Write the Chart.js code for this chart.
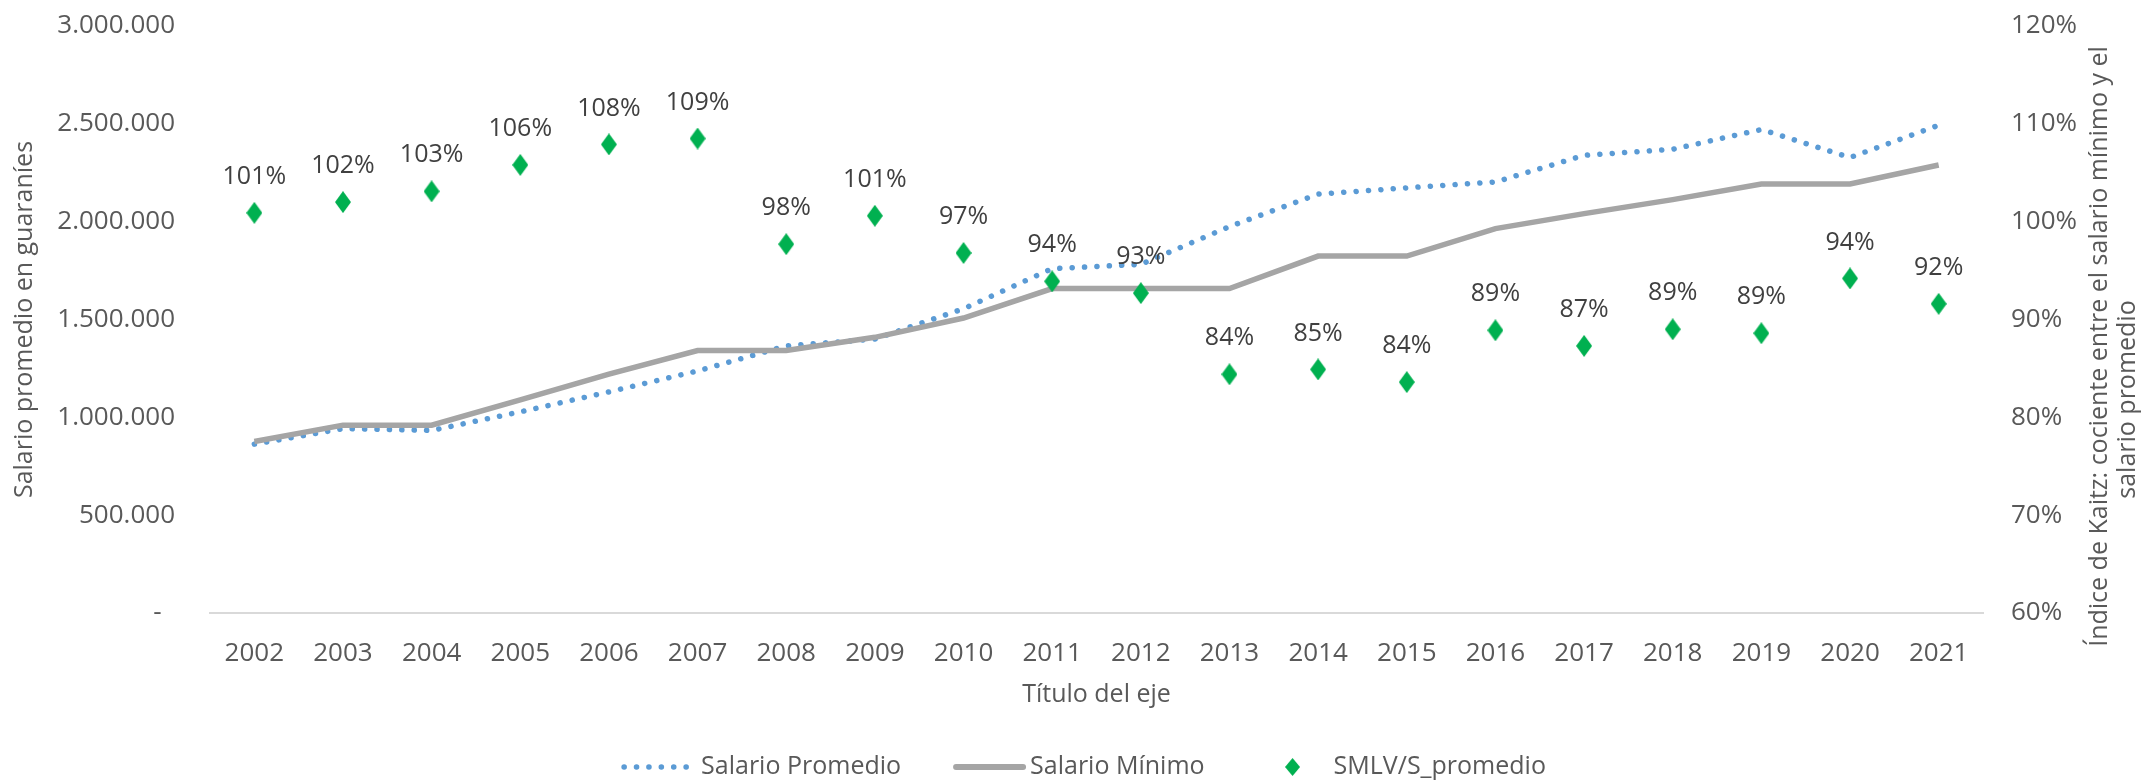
<!DOCTYPE html>
<html lang="es">
<head>
<meta charset="utf-8">
<title>Salario promedio y salario mínimo</title>
<script src="https://cdn.jsdelivr.net/npm/chart.js@4/dist/chart.umd.min.js"></script>
<style>
  html, body { margin: 0; padding: 0; background: #ffffff; }
  #wrap { width: 2154px; height: 780px; }
</style>
</head>
<body>
<div id="wrap"><canvas id="salarioChart" width="2154" height="780"></canvas></div>
<script>
// Data
const anios = ['2002', '2003', '2004', '2005', '2006', '2007', '2008', '2009', '2010', '2011',
               '2012', '2013', '2014', '2015', '2016', '2017', '2018', '2019', '2020', '2021'];

const salarioPromedio = [863000, 942000, 933000, 1028000, 1130000, 1237000, 1365000, 1400000, 1555000, 1760000,
                         1782000, 1975000, 2141000, 2173000, 2203000, 2339000, 2370000, 2471000, 2328000, 2493000];

const salarioMinimo = [876856, 960137, 960137, 1089725, 1220492, 1341320, 1341320, 1408863, 1507484, 1658232,
                       1658232, 1658232, 1824055, 1824055, 1964507, 2041123, 2112562, 2192839, 2192839, 2289324];

// SMLV / S_promedio in percent (Kaitz index)
const indiceKaitz = [100.9, 102.0, 103.1, 105.8, 107.9, 108.5, 97.7, 100.6, 96.8, 93.9,
                     92.7, 84.4, 84.9, 83.6, 88.9, 87.3, 89.0, 88.6, 94.2, 91.6];

const nombresSeries = ['Salario Promedio', 'Salario Mínimo', 'SMLV/S_promedio'];
const tituloIzq = 'Salario promedio en guaraníes';
const tituloDer = ['Índice de Kaitz: cociente entre el salario mínimo y el', 'salario promedio'];
const tituloX = 'Título del eje';

const FONT = "'Open Sans', 'DejaVu Sans', sans-serif";
const gris = '#595959';
const azul = '#5B9BD5';
const grisLinea = '#A5A5A5';
const verde = '#00B050';

// Green diamond marker (taller than wide, like the Excel marker)
function hacerDiamante(w, h) {
    const c = document.createElement('canvas');
    c.width = w;
    c.height = h;
    const g = c.getContext('2d');
    g.fillStyle = verde;
    g.beginPath();
    g.moveTo(w / 2, 0);
    g.lineTo(w, h / 2);
    g.lineTo(w / 2, h);
    g.lineTo(0, h / 2);
    g.closePath();
    g.fill();
    return c;
}
const diamante = hacerDiamante(16, 22);
const diamanteLeyenda = hacerDiamante(15, 18);

// Thousands with dots, zero shown as a dash
function formatoGuaranies(v) {
    if (v === 0) return '-  ';
    return String(v).replace(/\B(?=(\d{3})+(?!\d))/g, '.');
}

// Fixed axis width; drop the label padding so the plot top stays where we put it
function fijarAncho(w) {
    return (s) => {
        s.width = w;
        s.paddingTop = 0;
        s.paddingBottom = 0;
    };
}

// Percent labels above each diamond
const etiquetasKaitz = {
    id: 'etiquetasKaitz',
    afterDatasetsDraw(chart) {
        const meta = chart.getDatasetMeta(2);
        const ctx = chart.ctx;
        ctx.save();
        ctx.font = '25px ' + FONT;
        ctx.fillStyle = '#404040';
        ctx.textAlign = 'center';
        ctx.textBaseline = 'middle';
        meta.data.forEach((pt, i) => {
            ctx.fillText(Math.round(indiceKaitz[i]) + '%', pt.x, pt.y - 36);
        });
        ctx.restore();
    }
};

// Right axis title, reading bottom to top like the left one
const tituloDerecho = {
    id: 'tituloDerecho',
    afterDraw(chart) {
        const s = chart.scales.y1;
        const area = chart.chartArea;
        const ctx = chart.ctx;
        const mid = (area.top + area.bottom) / 2;
        const pos = [{ x: s.right - 54, y: mid + 27 }, { x: s.right - 26, y: mid + 80 }];
        ctx.save();
        ctx.font = '25px ' + FONT;
        ctx.fillStyle = gris;
        ctx.textAlign = 'center';
        ctx.textBaseline = 'middle';
        tituloDer.forEach((linea, i) => {
            ctx.save();
            ctx.translate(pos[i].x, pos[i].y);
            ctx.rotate(-Math.PI / 2);
            ctx.fillText(linea, 0, 0);
            ctx.restore();
        });
        ctx.restore();
    }
};

// Legend drawn by hand so its place does not move the plot area
const leyenda = {
    id: 'leyenda',
    afterDraw(chart) {
        const ctx = chart.ctx;
        const y = chart.height - 13;
        const muestra = 77;   // sample + gap before the text
        const hueco = 52;     // gap between items
        ctx.save();
        ctx.font = '25px ' + FONT;
        const anchos = nombresSeries.map(t => ctx.measureText(t).width);
        const total = anchos.reduce((a, b) => a + b, 0) + 3 * muestra + 2 * hueco;
        let x = 1085 - total / 2;

        nombresSeries.forEach((nombre, i) => {
            if (i === 0) {
                ctx.strokeStyle = azul;
                ctx.lineWidth = 5.5;
                ctx.lineCap = 'round';
                ctx.setLineDash([0.1, 12.3]);
                ctx.beginPath();
                ctx.moveTo(x, y);
                ctx.lineTo(x + 67, y);
                ctx.stroke();
                ctx.setLineDash([]);
            } else if (i === 1) {
                ctx.strokeStyle = grisLinea;
                ctx.lineWidth = 6;
                ctx.lineCap = 'round';
                ctx.beginPath();
                ctx.moveTo(x + 3, y);
                ctx.lineTo(x + 70, y);
                ctx.stroke();
            } else {
                ctx.drawImage(diamanteLeyenda, x + 36 - diamanteLeyenda.width / 2, y - diamanteLeyenda.height / 2);
            }
            ctx.fillStyle = gris;
            ctx.textAlign = 'left';
            ctx.textBaseline = 'middle';
            ctx.fillText(nombre, x + muestra, y);
            x += muestra + anchos[i] + hueco;
        });
        ctx.restore();
    }
};

const salarioChart = new Chart(document.getElementById('salarioChart'), {
    type: 'line',
    data: {
        labels: anios,
        datasets: [
            {
                label: nombresSeries[0],
                data: salarioPromedio,
                yAxisID: 'y',
                borderColor: azul,
                borderWidth: 5.5,
                borderDash: [0.1, 12.3],
                borderCapStyle: 'round',
                pointRadius: 0,
                tension: 0,
                order: 2
            },
            {
                label: nombresSeries[1],
                data: salarioMinimo,
                yAxisID: 'y',
                borderColor: grisLinea,
                borderWidth: 5.5,
                pointRadius: 0,
                tension: 0,
                order: 1
            },
            {
                label: nombresSeries[2],
                data: indiceKaitz,
                yAxisID: 'y1',
                showLine: false,
                pointStyle: diamante,
                pointRadius: 10,
                order: 0
            }
        ]
    },
    options: {
        responsive: false,
        animation: false,
        devicePixelRatio: 1,
        layout: { padding: { top: 26, left: 0, right: 0, bottom: 0 } },
        plugins: {
            tooltip: { enabled: false },
            legend: { display: false }
        },
        scales: {
            x: {
                offset: true,
                grid: { display: false, drawTicks: false },
                border: { display: true, color: '#D9D9D9', width: 2 },
                ticks: { font: { family: FONT, size: 26 }, color: gris, padding: 25 },
                title: { display: true, text: tituloX, font: { family: FONT, size: 25 }, color: gris,
                         padding: { top: 0, bottom: 70 } },
                afterFit: (s) => { s.height = 167; }
            },
            y: {
                position: 'left',
                min: 0,
                max: 3000000,
                grid: { display: false, drawTicks: false },
                border: { display: false },
                ticks: { stepSize: 500000, font: { family: FONT, size: 26 }, color: gris, padding: 35,
                         callback: formatoGuaranies },
                title: { display: true, text: tituloIzq, font: { family: FONT, size: 25 }, color: gris,
                         padding: { top: 10, bottom: 0 } },
                afterFit: fijarAncho(210)
            },
            y1: {
                position: 'right',
                min: 60,
                max: 120,
                grid: { display: false, drawTicks: false },
                border: { display: false },
                ticks: { stepSize: 10, font: { family: FONT, size: 26 }, color: gris, padding: 28,
                         callback: (v) => v + '%' },
                afterFit: fijarAncho(171)
            }
        }
    },
    plugins: [etiquetasKaitz, tituloDerecho, leyenda]
});
</script>
</body>
</html>
